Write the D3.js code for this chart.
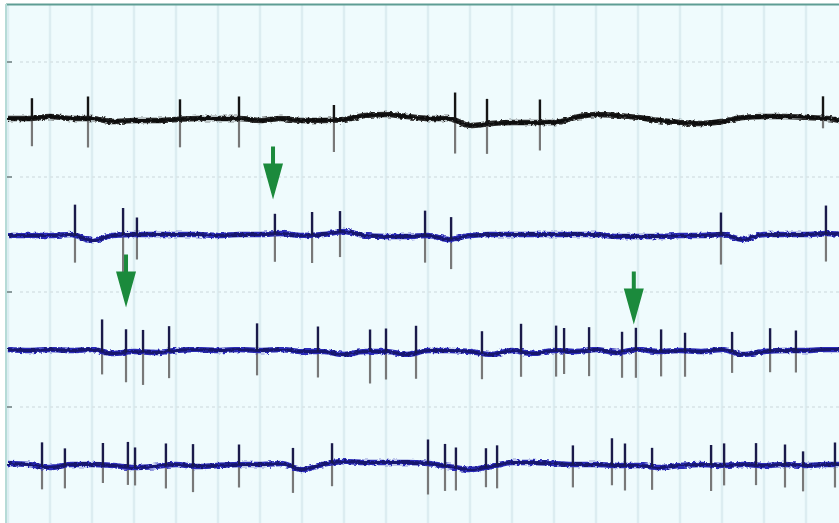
<!DOCTYPE html>
<html>
<head>
<meta charset="utf-8">
<script src="https://cdn.jsdelivr.net/npm/d3@7"></script>
<style>
  body { margin: 0; background: #fff; }
  svg { display: block; }
</style>
</head>
<body>
<svg id="chart" width="839" height="523"></svg>
<script>
// recording channels, top to bottom
var channels = ['ch1', 'ch2', 'ch3', 'ch4'];

// baseline samples every 100 ms (µV, up is positive)
var knotTimes = d3.range(0, 4001, 100);
var base1 = [2,2,6,2,2,-4,-2,-2,0,2, 2,2,-2,2,-2,-2,0,8,10,6, 2,2,-12,-8,-6,-6,-6,4,10,8, 4,-2,-6,-8,-4,4,6,6,4,2, -6];
var base2 = [-2,-2,-2,0,-12,-2,0,0,0,0, -2,0,0,2,-2,0,6,-2,-4,-4, -2,-10,-2,0,0,0,0,0,0,-4, -4,-4,-2,-2,0,-10,0,0,0,2, -2];
var base3 = [0,-2,0,-2,0,-8,-4,-6,-2,0, -2,0,-2,0,-4,-4,-10,-4,-4,-10, -2,-2,-4,-10,-2,-8,-2,-4,0,-6, 0,-4,-2,-4,0,-10,-4,-2,-2,0, 0];
var base4 = [2,0,-6,0,0,-2,-6,-4,0,-4, -2,0,0,2,-10,0,6,4,4,4, 2,-4,-10,-4,4,4,2,0,0,-2, -2,-6,-2,0,-2,0,-2,0,-2,0, 0];

// spikes: [time ms, peak above baseline µV, trough below baseline µV]
var spikes1 = [[114,40,56],[381,44,58],[819,40,56],[1100,44,58],[1552,30,64],[2129,56,66],[2281,50,60],[2533,46,56],[3881,44,20]];
var spikes2 = [[319,62,54],[548,54,74],[614,34,50],[1271,40,56],[1448,46,56],[1581,42,50],[1986,50,54],[2110,44,60],[3395,44,60],[3895,56,56]];
var spikes3 = [[448,64,46],[562,46,60],[643,44,66],[767,50,54],[1186,54,50],[1476,50,52],[1724,44,64],[1800,46,56],[1943,54,52],
               [2257,44,52],[2443,56,50],[2610,50,52],[2648,46,46],[2767,46,52],[2924,40,52],[2990,44,56],[3110,44,50],[3224,36,52],
               [3448,40,42],[3629,46,42],[3752,40,44]];
var spikes4 = [[162,48,46],[271,34,46],[452,44,36],[571,50,36],[605,40,36],[752,44,46],[881,44,52],[1100,40,46],[1357,38,52],
               [1543,40,46],[2000,48,62],[2081,44,50],[2133,40,46],[2276,38,40],[2329,40,46],[2690,38,46],[2876,54,40],[2938,44,50],
               [3067,38,46],[3348,40,52],[3410,44,40],[3562,44,40],[3700,40,46],[3786,28,52],[3938,44,46]];

// arrows: channel, time ms, tip height above baseline µV
var arrowCh = ['ch2', 'ch3', 'ch3'];
var arrowT = [1262, 562, 2980];
var arrowTip = [70, 84, 50];

var traces = [
  {ch: 'ch1', base: base1, spikes: spikes1, color: '#0d0d0d', halo: '#2b2b2b', spike: '#151515'},
  {ch: 'ch2', base: base2, spikes: spikes2, color: '#18186e', halo: '#2c2cb8', spike: '#1a1a4a'},
  {ch: 'ch3', base: base3, spikes: spikes3, color: '#18186e', halo: '#2c2cb8', spike: '#1a1a4a'},
  {ch: 'ch4', base: base4, spikes: spikes4, color: '#18186e', halo: '#2c2cb8', spike: '#1a1a4a'}
];

var W = 839, H = 523;
var svg = d3.select('#chart');

var x = d3.scaleLinear().domain([0, 4000]).range([8, 848]);
var y = d3.scaleBand().domain(channels).range([62, 522]);
var amp = d3.scaleLinear().domain([-115, 115]).range([57.5, -57.5]);
function mid(ch) { return y(ch) + y.bandwidth() / 2; }

// noisy look for the traces
var defs = svg.append('defs');
var f = defs.append('filter').attr('id', 'jitter')
  .attr('x', '-2%').attr('y', '-50%').attr('width', '104%').attr('height', '200%');
f.append('feTurbulence').attr('type', 'fractalNoise').attr('baseFrequency', '0.3 0.5')
  .attr('numOctaves', 2).attr('seed', 3).attr('result', 'n');
f.append('feDisplacementMap').attr('in', 'SourceGraphic').attr('in2', 'n')
  .attr('scale', 4).attr('xChannelSelector', 'R').attr('yChannelSelector', 'G');
defs.append('clipPath').attr('id', 'plot').append('rect')
  .attr('x', 6).attr('y', 5).attr('width', W - 6).attr('height', H - 5);

// background panel
svg.append('rect').attr('x', 6).attr('y', 5).attr('width', W - 6).attr('height', H - 5)
  .attr('fill', '#effbfd');

var g = svg.append('g').attr('clip-path', 'url(#plot)');

// vertical grid
g.selectAll('.vgrid').data(d3.range(0, 4001, 200)).enter().append('line')
  .attr('class', 'vgrid')
  .attr('x1', function(d) { return x(d); }).attr('x2', function(d) { return x(d); })
  .attr('y1', 5).attr('y2', H)
  .attr('stroke', '#dcedf1').attr('stroke-width', 2.5);

// dotted channel separators and left ticks
g.selectAll('.hgrid').data(channels).enter().append('line')
  .attr('class', 'hgrid')
  .attr('x1', 20).attr('x2', W)
  .attr('y1', function(d) { return y(d); }).attr('y2', function(d) { return y(d); })
  .attr('stroke', '#d7e3e6').attr('stroke-width', 1.5).attr('stroke-dasharray', '3,3');
g.selectAll('.ltick').data(channels).enter().append('line')
  .attr('class', 'ltick')
  .attr('x1', 7).attr('x2', 12)
  .attr('y1', function(d) { return y(d); }).attr('y2', function(d) { return y(d); })
  .attr('stroke', '#8a9a9c').attr('stroke-width', 2);

// baseline value at time t
function level(base, t) {
  var i = Math.min(Math.floor(t / 100), knotTimes.length - 2);
  var k = (t - knotTimes[i]) / 100;
  return base[i] + (base[i + 1] - base[i]) * k;
}

traces.forEach(function(tr) {
  var c = mid(tr.ch);
  var line = d3.line()
    .x(function(d, i) { return x(knotTimes[i]); })
    .y(function(d) { return c + amp(d); })
    .curve(d3.curveMonotoneX);

  var tg = g.append('g').attr('class', 'trace');

  // lower (gray) part of spikes
  tg.selectAll('.down').data(tr.spikes).enter().append('line')
    .attr('x1', function(d) { return x(d[0]); }).attr('x2', function(d) { return x(d[0]); })
    .attr('y1', function(d) { return c + amp(level(tr.base, d[0])); })
    .attr('y2', function(d) { return c + amp(level(tr.base, d[0]) - d[2]); })
    .attr('stroke', '#787878').attr('stroke-width', 2.2);

  tg.append('path').datum(tr.base)
    .attr('d', line).attr('fill', 'none')
    .attr('stroke', tr.halo).attr('stroke-width', 5.5)
    .attr('filter', 'url(#jitter)');
  tg.append('path').datum(tr.base)
    .attr('d', line).attr('fill', 'none')
    .attr('stroke', tr.color).attr('stroke-width', 3)
    .attr('filter', 'url(#jitter)');

  // upper (dark) part of spikes
  tg.selectAll('.up').data(tr.spikes).enter().append('line')
    .attr('x1', function(d) { return x(d[0]); }).attr('x2', function(d) { return x(d[0]); })
    .attr('y1', function(d) { return c + amp(level(tr.base, d[0])); })
    .attr('y2', function(d) { return c + amp(level(tr.base, d[0]) + d[1]); })
    .attr('stroke', tr.spike).attr('stroke-width', 2.4);
});

// green arrows
g.selectAll('.arrow').data(arrowT).enter().append('path')
  .attr('class', 'arrow')
  .attr('d', function(d, i) {
    var cx = x(d), tip = mid(arrowCh[i]) + amp(arrowTip[i]);
    var hb = tip - 36, top = tip - 53;
    return 'M' + (cx - 2) + ',' + top + 'L' + (cx + 2) + ',' + top +
      'L' + (cx + 2) + ',' + hb + 'L' + (cx + 10) + ',' + hb +
      'L' + cx + ',' + tip + 'L' + (cx - 10) + ',' + hb +
      'L' + (cx - 2) + ',' + hb + 'Z';
  })
  .attr('fill', '#1b8a3c');

// frame edges
svg.append('line').attr('x1', 6).attr('x2', W).attr('y1', 4.5).attr('y2', 4.5)
  .attr('stroke', '#5e9d94').attr('stroke-width', 2);
svg.append('line').attr('x1', 6).attr('x2', 6).attr('y1', 4).attr('y2', H)
  .attr('stroke', '#b6dbd7').attr('stroke-width', 2);
</script>
</body>
</html>
